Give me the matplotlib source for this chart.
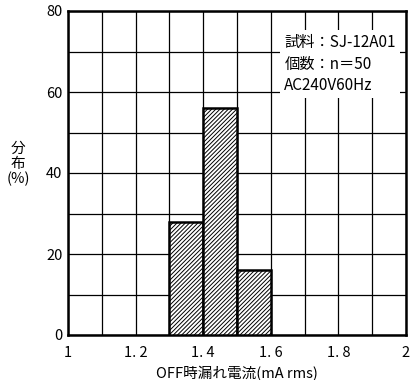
import matplotlib
matplotlib.use("Agg")
import matplotlib.pyplot as plt
import numpy as np

plt.rcParams['font.family'] = ['Noto Sans CJK JP', 'DejaVu Sans']
plt.rcParams['hatch.linewidth'] = 0.7

bin_left = [1.3, 1.4, 1.5]
percent = [28, 56, 16]
bin_width = 0.1
xticks = [1.0, 1.2, 1.4, 1.6, 1.8, 2.0]
xticklabels = ["1", "1. 2", "1. 4", "1. 6", "1. 8", "2"]
yticks = [0, 20, 40, 60, 80]
info_lines = ["試料：SJ-12A01", "個数：n＝50", "AC240V60Hz"]

fig = plt.figure(figsize=(4.11, 3.8), dpi=100)
ax = fig.add_axes([68/411, 1-335/380, 338/411, 324/380])

ax.set_xlim(1.0, 2.0)
ax.set_ylim(0, 80)
ax.set_xticks(np.arange(1.0, 2.01, 0.1), minor=True)
ax.set_yticks(np.arange(0, 81, 10), minor=True)
ax.grid(which='both', color='black', linewidth=0.9)
ax.set_axisbelow(True)

ax.bar(bin_left, percent, width=bin_width, align='edge', facecolor='white',
       edgecolor='black', linewidth=1.8, hatch='////////', zorder=3)

ax.set_xticks(xticks)
ax.set_xticklabels(xticklabels)
ax.set_yticks(yticks)
ax.tick_params(which='both', length=0, labelsize=10.5)
ax.tick_params(axis='x', pad=8)
ax.tick_params(axis='y', pad=4)
for s in ax.spines.values():
    s.set_linewidth(1.8)

ax.set_xlabel("OFF時漏れ電流(mA rms)", fontsize=10.5, labelpad=4)
fig.text(18/411, 1-164/380, "分\n布\n(%)", ha='center', va='center', fontsize=10.5, linespacing=1.1)

ax.text(1.64, 74.3, "\n".join(info_lines), ha='left', va='top', fontsize=11,
        linespacing=1.35, zorder=5,
        bbox=dict(facecolor='white', edgecolor='none', pad=3))

fig.savefig("out.png", dpi=100)
